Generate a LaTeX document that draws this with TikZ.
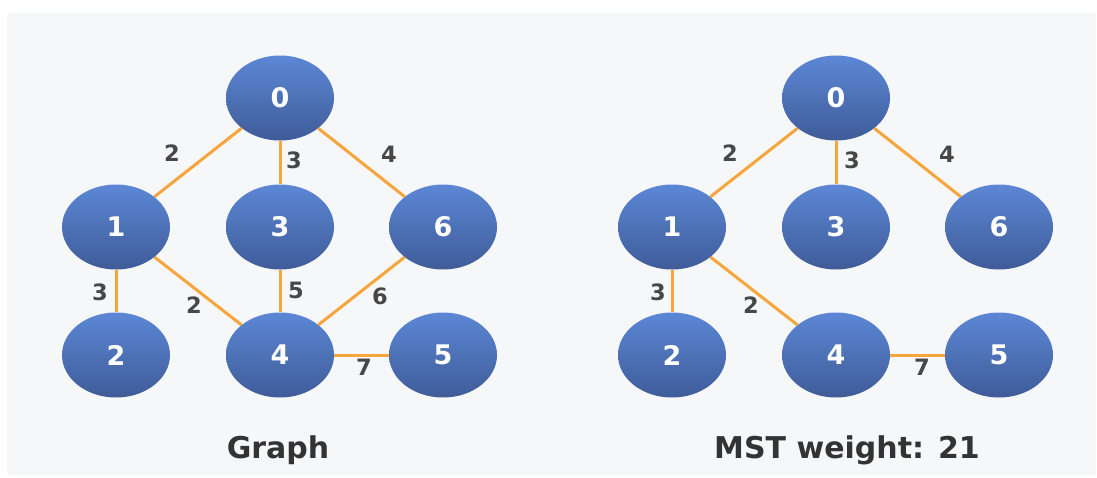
\documentclass[tikz,border=0pt]{standalone}
\usepackage{fontspec}
\setmainfont{DejaVu Sans}
\usetikzlibrary{shapes.geometric}
\definecolor{bg}{HTML}{F6F7F9}
\definecolor{edgec}{HTML}{F7A53C}
\definecolor{ntop}{HTML}{5C87D5}
\definecolor{nbot}{HTML}{3F5C98}
\definecolor{lbl}{HTML}{474747}
\definecolor{ttl}{HTML}{333333}
\tikzset{
  vtx/.style={ellipse, minimum width=108pt, minimum height=85pt, inner sep=0pt,
    top color=ntop, bottom color=nbot, draw=none, text=white,
    font=\bfseries\fontsize{27}{32}\selectfont},
  wedge/.style={draw=edgec, line width=3pt},
  wlabel/.style={text=lbl, font=\bfseries\fontsize{22.5}{27}\selectfont, inner sep=0pt},
  gtitle/.style={text=ttl, font=\bfseries\fontsize{30}{36}\selectfont, inner sep=0pt, anchor=base}
}
\begin{document}
\begin{tikzpicture}[x=1pt,y=-1pt]
\useasboundingbox (0,0) rectangle (1097,477);
\fill[bg] (7,13) rectangle (1096,475);

% left graph
\node[vtx] (a0) at (280,98) {0};
\node[vtx] (a1) at (116,227) {1};
\node[vtx] (a3) at (280,227) {3};
\node[vtx] (a6) at (443,227) {6};
\node[vtx] (a2) at (116,355) {2};
\node[vtx] (a4) at (280,355) {4};
\node[vtx] (a5) at (443,355) {5};
\draw[wedge] (a0) -- (a1);
\draw[wedge] (a0) -- (a3);
\draw[wedge] (a0) -- (a6);
\draw[wedge] (a1) -- (a2);
\draw[wedge] (a1) -- (a4);
\draw[wedge] (a3) -- (a4);
\draw[wedge] (a6) -- (a4);
\draw[wedge] (a4) -- (a5);
\node[wlabel] (la01) at (172,153) {2};
\node[wlabel] (la03) at (294,160) {3};
\node[wlabel] (la06) at (389,154) {4};
\node[wlabel] (la12) at (100,292) {3};
\node[wlabel] (la14) at (194,305) {2};
\node[wlabel] (la34) at (296,290) {5};
\node[wlabel] (la64) at (380,296) {6};
\node[wlabel] (la45) at (364,367) {7};
\node[gtitle] (ta) at (278,458) {Graph};

% right graph (MST)
\node[vtx] (b0) at (836,98) {0};
\node[vtx] (b1) at (672,227) {1};
\node[vtx] (b3) at (836,227) {3};
\node[vtx] (b6) at (999,227) {6};
\node[vtx] (b2) at (672,355) {2};
\node[vtx] (b4) at (836,355) {4};
\node[vtx] (b5) at (999,355) {5};
\draw[wedge] (b0) -- (b1);
\draw[wedge] (b0) -- (b3);
\draw[wedge] (b0) -- (b6);
\draw[wedge] (b1) -- (b2);
\draw[wedge] (b1) -- (b4);
\draw[wedge] (b4) -- (b5);
\node[wlabel] (lb01) at (730,153) {2};
\node[wlabel] (lb03) at (852,160) {3};
\node[wlabel] (lb06) at (947,154) {4};
\node[wlabel] (lb12) at (658,292) {3};
\node[wlabel] (lb14) at (751,305) {2};
\node[wlabel] (lb45) at (922,367) {7};
\node[gtitle] (tb) at (847,458) {MST weight: 21};
\end{tikzpicture}
\end{document}
